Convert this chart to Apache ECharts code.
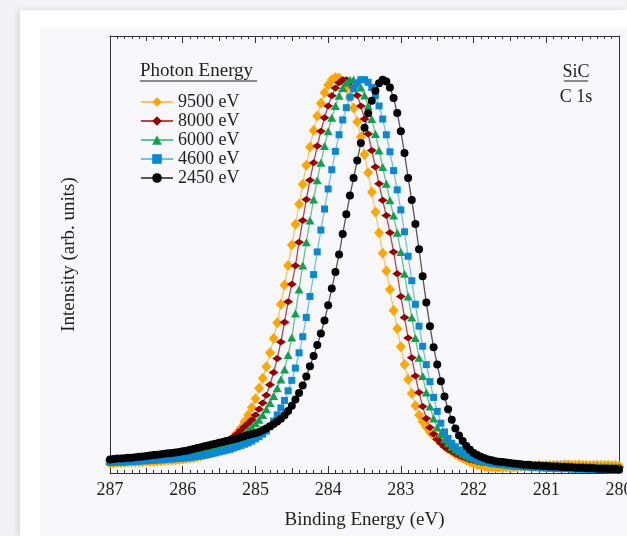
<!DOCTYPE html>
<html>
<head>
<meta charset="utf-8">
<script src="https://cdn.jsdelivr.net/npm/echarts@6/dist/echarts.min.js"></script>
<style>
	html, body { margin: 0; padding: 0; width: 627px; height: 536px; overflow: hidden; background: #f3f3f6; }
	#card { position: absolute; left: 20px; top: 10px; width: 607px; height: 526px; background: #ffffff; box-shadow: -3px 0 6px rgba(0, 0, 0, 0.10); }
	#chart { position: absolute; left: 40px; top: 27px; width: 587px; height: 509px; background: #f8f8fc; }
</style>
</head>
<body>
<div id="card"></div>
<div id="chart"></div>
<script>
// binding energy (eV), same grid for every spectrum
var energy = [
	287.00, 286.95, 286.90, 286.85, 286.80, 286.75, 286.70, 286.65, 286.60, 286.55,
	286.50, 286.45, 286.40, 286.35, 286.30, 286.25, 286.20, 286.15, 286.10, 286.05,
	286.00, 285.95, 285.90, 285.85, 285.80, 285.75, 285.70, 285.65, 285.60, 285.55,
	285.50, 285.45, 285.40, 285.35, 285.30, 285.25, 285.20, 285.15, 285.10, 285.05,
	285.00, 284.95, 284.90, 284.85, 284.80, 284.75, 284.70, 284.65, 284.60, 284.55,
	284.50, 284.45, 284.40, 284.35, 284.30, 284.25, 284.20, 284.15, 284.10, 284.05,
	284.00, 283.95, 283.90, 283.85, 283.80, 283.75, 283.70, 283.65, 283.60, 283.55,
	283.50, 283.45, 283.40, 283.35, 283.30, 283.25, 283.20, 283.15, 283.10, 283.05,
	283.00, 282.95, 282.90, 282.85, 282.80, 282.75, 282.70, 282.65, 282.60, 282.55,
	282.50, 282.45, 282.40, 282.35, 282.30, 282.25, 282.20, 282.15, 282.10, 282.05,
	282.00, 281.95, 281.90, 281.85, 281.80, 281.75, 281.70, 281.65, 281.60, 281.55,
	281.50, 281.45, 281.40, 281.35, 281.30, 281.25, 281.20, 281.15, 281.10, 281.05,
	281.00, 280.95, 280.90, 280.85, 280.80, 280.75, 280.70, 280.65, 280.60, 280.55,
	280.50, 280.45, 280.40, 280.35, 280.30, 280.25, 280.20, 280.15, 280.10, 280.05,
	280.00
];

// intensity (arb. units) for each photon energy
var i9500 = [
	2.3, 2.3, 2.4, 2.4, 2.4, 2.5, 2.5, 2.5, 2.6, 2.6,
	2.7, 2.7, 2.7, 2.8, 2.8, 2.9, 2.9, 3.0, 3.0, 3.1,
	3.2, 3.3, 3.4, 3.5, 3.7, 3.9, 4.1, 4.4, 4.7, 5.1,
	5.5, 6.0, 6.6, 7.4, 8.3, 9.2, 10.3, 11.7, 13.3, 15.0,
	17.0, 19.4, 21.7, 24.3, 27.5, 30.8, 34.4, 38.6, 43.0, 47.5,
	52.2, 56.9, 61.5, 66.1, 70.4, 74.6, 78.4, 81.7, 84.6, 87.0,
	88.8, 90.0, 90.5, 90.4, 89.6, 88.1, 86.1, 83.5, 80.4, 76.9,
	72.9, 68.7, 64.3, 59.7, 55.0, 50.3, 46.2, 42.0, 37.2, 33.0,
	28.9, 24.8, 21.4, 18.2, 15.4, 13.3, 11.7, 10.5, 9.4, 8.5,
	7.7, 6.9, 6.2, 5.5, 4.9, 4.3, 3.8, 3.4, 3.0, 2.6,
	2.2, 1.9, 1.7, 1.5, 1.4, 1.3, 1.3, 1.3, 1.3, 1.4,
	1.4, 1.4, 1.5, 1.5, 1.5, 1.6, 1.6, 1.6, 1.7, 1.7,
	1.7, 1.8, 1.8, 1.8, 1.8, 1.9, 1.9, 1.8, 1.8, 1.9,
	1.8, 1.8, 1.7, 1.8, 1.8, 1.7, 1.7, 1.8, 1.7, 1.7,
	1.6
];
var i8000 = [
	2.9, 2.9, 3.0, 3.0, 3.1, 3.1, 3.2, 3.3, 3.3, 3.4,
	3.5, 3.5, 3.6, 3.7, 3.8, 3.9, 4.0, 4.1, 4.2, 4.3,
	4.4, 4.5, 4.7, 4.8, 5.0, 5.2, 5.4, 5.6, 5.8, 6.1,
	6.4, 6.8, 7.2, 7.7, 8.3, 9.0, 9.8, 10.6, 11.4, 12.2,
	13.3, 14.6, 16.0, 17.8, 20.2, 23.0, 26.2, 30.0, 34.5, 39.2,
	43.2, 47.4, 52.8, 57.8, 62.6, 67.0, 71.0, 74.8, 78.2, 81.3,
	84.0, 86.3, 88.1, 89.3, 90.0, 90.0, 89.4, 88.2, 86.4, 84.0,
	81.0, 77.6, 73.8, 70.0, 66.2, 62.4, 58.9, 55.0, 50.6, 45.6,
	40.4, 35.6, 30.9, 26.4, 22.2, 18.4, 15.2, 12.5, 10.4, 8.9,
	7.7, 6.8, 6.0, 5.4, 4.9, 4.4, 4.0, 3.6, 3.3, 3.0,
	2.8, 2.6, 2.5, 2.4, 2.3, 2.2, 2.1, 2.1, 2.0, 2.0,
	1.9, 1.9, 1.9, 1.8, 1.8, 1.8, 1.8, 1.7, 1.7, 1.7,
	1.7, 1.7, 1.6, 1.6, 1.6, 1.6, 1.6, 1.5, 1.5, 1.5,
	1.5, 1.5, 1.5, 1.4, 1.4, 1.4, 1.4, 1.4, 1.3, 1.3,
	1.3
];
var i6000 = [
	2.8, 2.8, 2.9, 2.9, 3.0, 3.0, 3.1, 3.1, 3.2, 3.3,
	3.3, 3.4, 3.5, 3.5, 3.6, 3.7, 3.8, 3.9, 4.0, 4.1,
	4.2, 4.3, 4.4, 4.5, 4.7, 4.8, 5.0, 5.2, 5.4, 5.6,
	5.8, 6.1, 6.4, 6.8, 7.2, 7.7, 8.3, 9.0, 9.8, 10.6,
	11.4, 12.2, 13.3, 14.6, 16.0, 17.6, 19.4, 21.4, 23.7, 27.0,
	31.0, 36.5, 42.0, 47.5, 52.8, 57.8, 62.6, 67.0, 71.0, 74.8,
	78.2, 81.3, 84.0, 86.3, 88.1, 89.3, 90.0, 90.0, 89.4, 88.2,
	86.4, 84.0, 81.0, 77.6, 73.8, 70.0, 66.2, 62.4, 58.9, 55.0,
	50.6, 45.6, 40.4, 35.6, 30.9, 26.4, 22.2, 18.4, 15.2, 12.5,
	10.4, 8.9, 7.7, 6.8, 6.0, 5.4, 4.9, 4.4, 4.0, 3.6,
	3.3, 3.0, 2.8, 2.6, 2.5, 2.4, 2.3, 2.2, 2.1, 2.1,
	2.0, 2.0, 1.9, 1.9, 1.9, 1.8, 1.8, 1.8, 1.8, 1.7,
	1.7, 1.7, 1.7, 1.7, 1.6, 1.6, 1.6, 1.6, 1.6, 1.5,
	1.5, 1.5, 1.5, 1.5, 1.5, 1.4, 1.4, 1.4, 1.4, 1.4,
	1.3
];
var i4600 = [
	2.4, 2.4, 2.5, 2.5, 2.5, 2.6, 2.6, 2.7, 2.7, 2.8,
	2.8, 2.9, 2.9, 3.0, 3.0, 3.1, 3.2, 3.2, 3.3, 3.4,
	3.4, 3.5, 3.6, 3.7, 3.8, 3.9, 4.1, 4.2, 4.4, 4.6,
	4.8, 5.0, 5.2, 5.4, 5.7, 6.0, 6.3, 6.6, 6.9, 7.3,
	7.8, 8.3, 8.9, 9.6, 10.6, 11.9, 13.3, 14.9, 16.6, 18.8,
	21.2, 24.0, 27.5, 31.2, 35.6, 40.4, 45.4, 50.6, 55.6, 60.4,
	65.0, 69.4, 73.6, 77.4, 80.8, 83.6, 86.0, 87.9, 89.2, 90.0,
	90.0, 89.4, 88.2, 86.4, 84.0, 81.0, 77.4, 73.5, 69.2, 64.8,
	60.2, 55.2, 49.6, 44.0, 38.6, 33.6, 29.0, 24.8, 20.9, 17.3,
	14.1, 11.4, 9.4, 7.9, 6.8, 6.0, 5.3, 4.7, 4.2, 3.8,
	3.4, 3.1, 2.8, 2.6, 2.4, 2.2, 2.1, 2.0, 1.9, 1.8,
	1.7, 1.6, 1.5, 1.5, 1.4, 1.4, 1.3, 1.3, 1.2, 1.2,
	1.1, 1.1, 1.1, 1.0, 1.0, 1.0, 1.0, 0.9, 0.9, 0.9,
	0.9, 0.9, 0.8, 0.8, 0.8, 0.8, 0.8, 0.7, 0.7, 0.7,
	0.7
];
var i2450 = [
	3.1, 3.2, 3.3, 3.3, 3.4, 3.5, 3.5, 3.6, 3.7, 3.8,
	3.9, 4.0, 4.1, 4.2, 4.3, 4.4, 4.5, 4.6, 4.7, 4.8,
	5.0, 5.1, 5.3, 5.5, 5.7, 5.9, 6.1, 6.3, 6.5, 6.7,
	6.9, 7.1, 7.3, 7.5, 7.7, 7.9, 8.2, 8.4, 8.7, 8.9,
	9.1, 9.4, 9.8, 10.2, 10.7, 11.2, 11.8, 12.4, 13.2, 14.2,
	15.4, 16.8, 18.3, 20.0, 22.1, 24.4, 26.8, 29.3, 31.9, 34.9,
	38.4, 42.2, 46.0, 50.0, 54.7, 59.2, 63.5, 67.5, 71.5, 75.5,
	79.0, 82.3, 85.2, 87.5, 89.2, 90.0, 89.6, 88.2, 85.8, 82.4,
	78.2, 73.2, 67.5, 62.5, 57.0, 51.2, 45.0, 39.0, 33.6, 28.8,
	24.8, 21.0, 17.5, 14.6, 12.2, 10.2, 8.6, 7.3, 6.2, 5.3,
	4.6, 4.1, 3.7, 3.4, 3.1, 2.9, 2.7, 2.6, 2.5, 2.4,
	2.3, 2.2, 2.1, 2.0, 1.9, 1.9, 1.8, 1.7, 1.7, 1.6,
	1.6, 1.5, 1.5, 1.5, 1.4, 1.4, 1.3, 1.3, 1.2, 1.2,
	1.2, 1.1, 1.1, 1.1, 1.0, 1.0, 1.0, 0.9, 0.9, 0.9,
	0.8
];

var xRange = [280, 287];

var FONT = 'Liberation Serif';
var TEXT_COLOR = '#1e1e1e';
var AXIS_COLOR = '#333';

var SPECTRA = [
	{ name: '9500 eV', data: i9500, marker: '#FFA600', line: '#FFC35C', symbol: 'diamond', size: [10, 11] },
	{ name: '8000 eV', data: i8000, marker: '#930000', line: '#B24848', symbol: 'diamond', size: [10, 7] },
	{ name: '6000 eV', data: i6000, marker: '#10A050', line: '#62C48A', symbol: 'triangle', size: [9, 8] },
	{ name: '4600 eV', data: i4600, marker: '#0B88D2', line: '#70C0EC', symbol: 'rect', size: [7, 7] },
	{ name: '2450 eV', data: i2450, marker: '#000000', line: '#555555', symbol: 'circle', size: [8, 8] }
];

function toPairs(values) {
	var out = [];
	for (var k = 0; k < energy.length; k++) {
		out.push([energy[k], values[k]]);
	}
	return out;
}

// x axis: grid 0 carries labels, major and minor ticks; grid 1 only adds the half-unit ticks
function makeXAxis(gridIndex, pos, interval, tickLen, main) {
	return {
		type: 'value',
		gridIndex: gridIndex,
		position: pos,
		min: xRange[0],
		max: xRange[1],
		interval: interval,
		inverse: true,
		axisLine: { show: main, onZero: false, lineStyle: { color: AXIS_COLOR, width: 1 } },
		axisTick: { show: true, inside: true, length: tickLen, lineStyle: { color: AXIS_COLOR, width: 1 } },
		minorTick: { show: main, splitNumber: 10, length: 3, lineStyle: { color: AXIS_COLOR, width: 1 } },
		axisLabel: {
			show: main && pos === 'bottom',
			margin: 8,
			color: TEXT_COLOR,
			fontFamily: FONT,
			fontSize: 18,
			showMinLabel: true,
			showMaxLabel: true
		},
		splitLine: { show: false },
		name: main && pos === 'bottom' ? 'Binding Energy (eV)' : '',
		nameLocation: 'middle',
		nameGap: 38,
		nameTextStyle: { color: TEXT_COLOR, fontFamily: FONT, fontSize: 19 }
	};
}

function makeYAxis(gridIndex, pos, main) {
	return {
		type: 'value',
		gridIndex: gridIndex,
		position: pos,
		min: 0,
		max: 100,
		axisLine: { show: main, onZero: false, lineStyle: { color: AXIS_COLOR, width: 1 } },
		axisTick: { show: false },
		axisLabel: { show: false },
		splitLine: { show: false },
		name: main && pos === 'left' ? 'Intensity (arb. units)' : '',
		nameLocation: 'middle',
		nameGap: 31,
		nameTextStyle: { color: TEXT_COLOR, fontFamily: FONT, fontSize: 19 }
	};
}

var series = SPECTRA.map(function (s) {
	return {
		name: s.name,
		type: 'line',
		xAxisIndex: 0,
		yAxisIndex: 0,
		data: toPairs(s.data),
		symbol: s.symbol,
		symbolSize: s.size,
		showSymbol: true,
		lineStyle: { color: s.line, width: 1.3 },
		itemStyle: { color: s.marker },
		emphasis: { disabled: true }
	};
});

var plotBox = { left: 70, right: 8, top: 9, bottom: 63, outerBoundsMode: 'none' };

var chart = echarts.init(document.getElementById('chart'), null, { renderer: 'canvas' });
chart.setOption({
	animation: false,
	grid: [plotBox, plotBox],
	xAxis: [
		makeXAxis(0, 'bottom', 1, 7, true),
		makeXAxis(0, 'top', 1, 7, true),
		makeXAxis(1, 'bottom', 0.5, 5, false),
		makeXAxis(1, 'top', 0.5, 5, false)
	],
	yAxis: [
		makeYAxis(0, 'left', true),
		makeYAxis(0, 'right', true),
		makeYAxis(1, 'left', false)
	],
	legend: {
		orient: 'vertical',
		left: 95,
		top: 61,
		padding: 5,
		itemWidth: 32,
		itemHeight: 12,
		itemGap: 1,
		selectedMode: false,
		textStyle: { color: TEXT_COLOR, fontFamily: FONT, fontSize: 18 },
		data: SPECTRA.map(function (s) { return s.name; })
	},
	graphic: [
		{ type: 'text', left: 100, top: 35, style: { text: 'Photon Energy', font: '19px "Liberation Serif"', fill: TEXT_COLOR } },
		{ type: 'line', shape: { x1: 100, y1: 54, x2: 217, y2: 54 }, style: { stroke: TEXT_COLOR, lineWidth: 1 } },
		{ type: 'text', x: 536, y: 45, style: { text: 'SiC', font: '18px "Liberation Serif"', fill: TEXT_COLOR, textAlign: 'center', textVerticalAlign: 'middle' } },
		{ type: 'line', shape: { x1: 524, y1: 54, x2: 548, y2: 54 }, style: { stroke: TEXT_COLOR, lineWidth: 1 } },
		{ type: 'text', x: 536, y: 70, style: { text: 'C 1s', font: '18px "Liberation Serif"', fill: TEXT_COLOR, textAlign: 'center', textVerticalAlign: 'middle' } }
	],
	series: series
});
</script>
</body>
</html>
